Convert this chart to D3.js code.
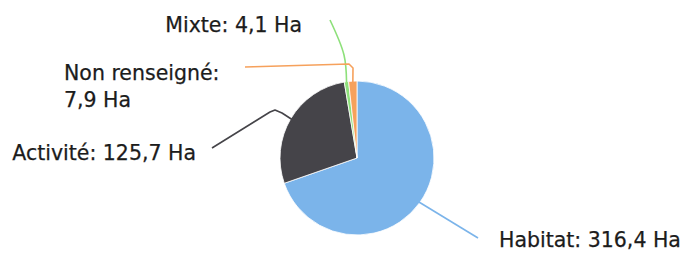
<!DOCTYPE html>
<html>
<head>
<meta charset="utf-8">
<script src="https://cdn.jsdelivr.net/npm/d3@7"></script>
<style>
  html, body { margin: 0; padding: 0; background: #fff; }
  svg { display: block; }
  text { font-family: "DejaVu Sans", Verdana, sans-serif; font-size: 20.5px; fill: #1c1c1c; stroke: #1c1c1c; stroke-width: 0.25px; }
</style>
</head>
<body>
<svg id="chart" width="684" height="253"></svg>
<script>
const categories = ["Habitat", "Activité", "Mixte", "Non renseigné"];
const values = [316.4, 125.7, 4.1, 7.9];
const colors = ["#7bb4ea", "#454449", "#8de07a", "#f6a15c"];
const unit = "Ha";

const W = 684, H = 253;
const cx = 357, cy = 158, r = 77;

const svg = d3.select("#chart");
const g = svg.append("g").attr("transform", `translate(${cx},${cy})`);

const loc = d3.formatLocale({ decimal: ",", thousands: " ", grouping: [3], currency: ["", ""] });
const fmt = loc.format(".1f");

const pie = d3.pie().sort(null).value(d => d.v);
const data = categories.map((c, i) => ({ c, v: values[i], col: colors[i] }));
const arcs = pie(data);
const arc = d3.arc().innerRadius(0).outerRadius(r);

g.selectAll("path.slice").data(arcs).enter().append("path")
  .attr("class", "slice")
  .attr("d", arc)
  .attr("fill", d => d.data.col)
  .attr("stroke", "#fff")
  .attr("stroke-width", 0.8)
  .attr("stroke-linejoin", "round");

// label layout (relative to chart origin)
const layout = {
  "Habitat":       { pts: [[478, 238]], tx: 499, ty: 247, anchor: "start", lines: 1 },
  "Activité":      { pts: [[282, 113], [275, 110], [270, 112], [212, 148]], tx: 196, ty: 160, anchor: "end", lines: 1 },
  "Mixte":         { pts: [[344, 55], [330, 20]], tx: 302, ty: 32, anchor: "end", lines: 1, curve: true },
  "Non renseigné": { pts: [[353, 68], [349, 64], [245, 67]], tx: 64, ty: 80, anchor: "start", lines: 2 }
};

function outerPoint(d, rr) {
  const a = (d.startAngle + d.endAngle) / 2;
  return [cx + rr * Math.sin(a), cy - rr * Math.cos(a)];
}

const line = d3.line().curve(d3.curveLinear);
const curved = d3.line().curve(d3.curveCatmullRom.alpha(0.5));

arcs.forEach(d => {
  const L = layout[d.data.c];
  const start = outerPoint(d, r - 1);
  const pts = [start, ...L.pts];
  svg.append("path")
    .attr("d", (L.curve ? curved : line)(pts))
    .attr("fill", "none")
    .attr("stroke", d.data.col)
    .attr("stroke-width", 1.6)
    .attr("stroke-linejoin", "round");

  const label = `${d.data.c}: ${fmt(d.data.v)} ${unit}`;
  const t = svg.append("text")
    .attr("x", L.tx).attr("y", L.ty)
    .attr("text-anchor", L.anchor);
  if (L.lines === 2) {
    t.append("tspan").attr("x", L.tx).text(`${d.data.c}:`);
    t.append("tspan").attr("x", L.tx).attr("dy", 27).text(`${fmt(d.data.v)} ${unit}`);
  } else {
    t.text(label);
  }
});
</script>
</body>
</html>
